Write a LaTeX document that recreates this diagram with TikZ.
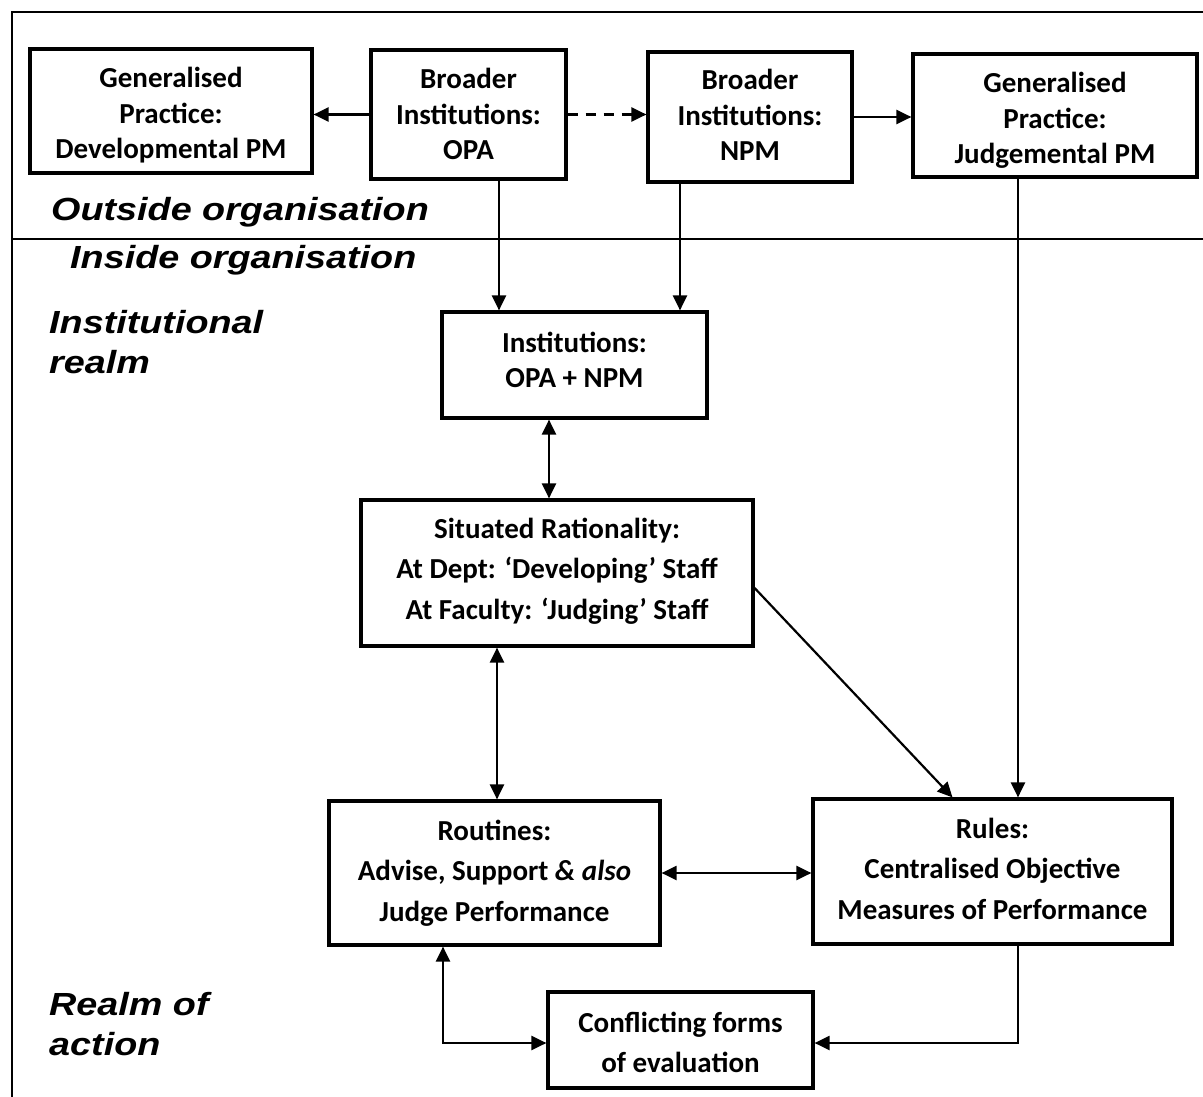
\documentclass[tikz,border=0pt]{standalone}
\usepackage{fontspec}
\setmainfont{Carlito}
\newfontfamily\realmfam{Liberation Sans}[FakeStretch=1.18]
\usetikzlibrary{arrows.meta}

\tikzset{
    box/.style={draw, line width=3.2pt, align=center, inner sep=0pt,
        font=\bfseries\fontsize{29}{35.5}\selectfont},
    wide/.style={font=\bfseries\fontsize{29}{40.5}\selectfont},
    realm/.style={anchor=base west, align=left, inner sep=0pt,
        font=\realmfam\bfseries\itshape\fontsize{32}{40}\selectfont},
    conn/.style={line width=2.2pt},
    >={Triangle[length=15pt,width=14pt]}
}

\begin{document}
\begin{tikzpicture}[x=1pt, y=-1pt]
    \useasboundingbox (0,0) rectangle (1203,1097);
    % frame and divider
    \draw[line width=2.2pt] (1203,12) -- (12,12) -- (12,1097);
    \draw[line width=2.2pt] (12,239) -- (1203,239);

    % text height = top to last baseline, text depth = rest
    \node[box, minimum width=282, text height=110, text depth=14] (gdev) at (171, 111) {Generalised\\Practice:\\Developmental PM};
    \node[box, minimum width=195, text height=110, text depth=19] (opa) at (468.5, 114.5) {Broader\\Institutions:\\OPA};
    \node[box, minimum width=204, text height=109, text depth=21] (npm) at (750, 117) {Broader\\Institutions:\\NPM};
    \node[box, minimum width=284, text height=110, text depth=13] (gjud) at (1055, 115.5) {Generalised\\Practice:\\Judgemental PM};
    \node[box, minimum width=265, text height=75.5, text depth=30.5] (inst) at (574.5, 365) {Institutions:\\OPA + NPM};
    \node[box, wide, minimum width=392, text height=119, text depth=27] (sit) at (557, 573) {Situated Rationality:\\At Dept: ‘Developing’ Staff\\At Faculty: ‘Judging’ Staff};
    \node[box, wide, minimum width=331, text height=120, text depth=24] (rout) at (494.5, 873) {Routines:\\Advise, Support \textit{\& also}\\Judge Performance};
    \node[box, wide, minimum width=359, text height=120, text depth=25] (rules) at (992.5, 871.5) {Rules:\\Centralised Objective\\Measures of Performance};
    \node[box, wide, minimum width=265, text height=80.5, text depth=15.5] (conf) at (680.5, 1040) {Conflicting forms\\of evaluation};

    \node[realm] (outside) at (51, 220) {Outside organisation};
    \node[realm] (inside) at (70, 269) {Inside organisation};
    \node[realm] (instrealm) at (49, 373) {Institutional\\realm};
    \node[realm] (action) at (49, 1055) {Realm of\\action};

    \draw[conn, ->] (opa.west) -- (gdev.east |- opa.west);
    \draw[conn, ->, dash pattern=on 10pt off 8pt] (opa.east) -- (npm.west |- opa.east);
    \draw[conn, ->] (npm.east) -- (gjud.west |- npm.east);
    \draw[conn, ->] ([xshift=30.5]opa.south) -- ([xshift=30.5]opa.south |- inst.north);
    \draw[conn, ->] ([xshift=-70]npm.south) -- ([xshift=-70]npm.south |- inst.north);
    \draw[conn, ->] ([xshift=-37]gjud.south) -- ([xshift=-37]gjud.south |- rules.north);
    \draw[conn, <->] ([xshift=-25.5]inst.south) -- ([xshift=-25.5]inst.south |- sit.north);
    \draw[conn, ->] ([yshift=-15]sit.east) -- ([xshift=-40]rules.north);
    \draw[conn, <->] ([xshift=2.5]rout.north) -- ([xshift=2.5]rout.north |- sit.south);
    \draw[conn, <->] (rout.east) -- (rules.west |- rout.east);
    \draw[conn, <->] ([yshift=-3]conf.west) -| ([xshift=-51.5]rout.south);
    \draw[conn, ->] ([xshift=25.5]rules.south) |- ([yshift=-3]conf.east);
\end{tikzpicture}
\end{document}
